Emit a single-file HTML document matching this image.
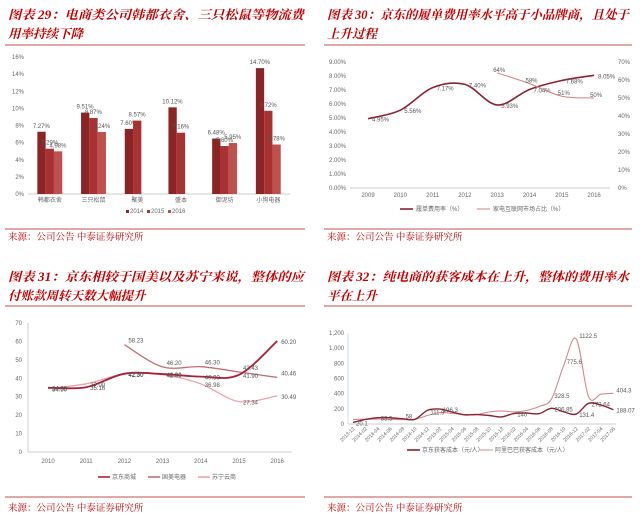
<!DOCTYPE html>
<html><head><meta charset="utf-8"><style>
html,body{margin:0;padding:0;background:#fff;width:640px;height:518px;overflow:hidden}
svg{display:block;font-family:"Liberation Sans","Noto Sans CJK SC",sans-serif}
.t{font-family:"Liberation Serif","Noto Serif CJK SC",serif;font-weight:bold;font-size:12.5px;fill:#C00000;font-style:italic}
.s{font-family:"Liberation Serif","Noto Serif CJK SC",serif;font-size:9.5px;fill:#C00000}
.ax{font-size:6px;fill:#666}
.dl{font-size:6px;fill:#555}
</style></head><body>
<svg id="root" width="640" height="518">
<g>
<text class="t" x="8" y="19" textLength="296" lengthAdjust="spacingAndGlyphs">图表 29：电商类公司韩都衣舍、三只松鼠等物流费</text>
<text class="t" x="8" y="38">用率持续下降</text></g>
<g>
<text class="t" x="327" y="19" textLength="302" lengthAdjust="spacingAndGlyphs">图表 30：京东的履单费用率水平高于小品牌商，且处于</text>
<text class="t" x="327" y="38">上升过程</text></g>
<g>
<text class="t" x="8" y="281" textLength="296" lengthAdjust="spacingAndGlyphs">图表 31：京东相较于国美以及苏宁来说，整体的应</text>
<text class="t" x="8" y="300">付账款周转天数大幅提升</text></g>
<g>
<text class="t" x="327" y="281" textLength="302" lengthAdjust="spacingAndGlyphs">图表 32：纯电商的获客成本在上升，整体的费用率水</text>
<text class="t" x="327" y="300">平在上升</text></g>
<line x1="5" y1="45" x2="305" y2="45" stroke="#C0504D"/>
<line x1="324" y1="45" x2="632" y2="45" stroke="#C0504D"/>
<line x1="5" y1="229" x2="305" y2="229" stroke="#C0504D"/>
<line x1="324" y1="229" x2="632" y2="229" stroke="#C0504D"/>
<line x1="5" y1="306" x2="305" y2="306" stroke="#C0504D"/>
<line x1="324" y1="306" x2="632" y2="306" stroke="#C0504D"/>
<line x1="5" y1="497" x2="305" y2="497" stroke="#C0504D"/>
<line x1="324" y1="497" x2="632" y2="497" stroke="#C0504D"/>
<text class="s" x="8" y="240">来源：公司公告 中泰证券研究所</text>
<text class="s" x="327" y="240">来源：公司公告 中泰证券研究所</text>
<text class="s" x="8" y="511">来源：公司公告 中泰证券研究所</text>
<text class="s" x="327" y="511">来源：公司公告 中泰证券研究所</text>
<g id="c1"></g><g id="c2"></g><g id="c3"></g><g id="c4"></g>
</svg>
<script>
// chart 29 data
const c1Cats=["韩都衣舍","三只松鼠","聚美","盛本","御泥坊","小狗电器"];
const c1Years=["2014","2015","2016"];
const c1V2014=[7.27,9.51,7.60,10.12,6.48,14.70];
const c1V2015=[5.29,8.87,8.57,7.16,5.60,9.72];
const c1V2016=[4.98,7.24,null,null,5.95,5.78];
const c1Ticks=[0,2,4,6,8,10,12,14,16];
// chart 30 data
const c2Years=["2009","2010","2011","2012","2013","2014","2015","2016"];
const c2Rate=[4.95,5.56,7.17,7.40,5.93,7.04,7.68,8.05];
const c2Share=[null,null,null,null,64,58,51,50];
const c2LTicks=[0,1,2,3,4,5,6,7,8,9];
const c2RTicks=[0,10,20,30,40,50,60,70];
// chart 31 data
const c3Years=["2010","2011","2012","2013","2014","2015","2016"];
const c3JD=[34.88,35.16,42.50,42.30,40.90,41.90,60.20];
const c3Gome=[null,null,58.23,46.20,46.30,43.43,40.46];
const c3Suning=[34.5,37.0,42.3,42.0,36.98,27.34,30.49];
const c3Ticks=[0,10,20,30,40,50,60,70];
// chart 32 data
const c4Dates=["2013-12","2014-02","2014-04","2014-06","2014-08","2014-10","2014-12","2015-02","2015-04","2015-06","2015-08","2015-10","2015-12","2016-02","2016-04","2016-06","2016-08","2016-10","2016-12","2017-02","2017-04","2017-06"];
const c4JD=[20.1,60,83.5,82.3,70,61.5,180,196.3,158.1,121.8,125,112,93.85,140,143.8,135.75,206.85,160,131.4,272.64,250,188.07];
const c4Ali=[60,62,65,62,58,61.5,111.9,150,140,121,125,160,172,160,178,230,328.5,775.6,1122.5,360,393,404.3];
const c4Ticks=[0,200,400,600,800,1000,1200];

const NS="http://www.w3.org/2000/svg";
function mk(p,tag,a){const e=document.createElementNS(NS,tag);for(const k in a)e.setAttribute(k,a[k]);p.appendChild(e);return e;}
function txt(p,x,y,s,cls,anchor){const e=mk(p,"text",{x:x,y:y,class:cls,"text-anchor":anchor||"start"});e.textContent=s;return e;}
function smooth(pts){let d="M"+pts[0][0]+","+pts[0][1];for(let i=0;i<pts.length-1;i++){const p0=pts[i-1]||pts[i],p1=pts[i],p2=pts[i+1],p3=pts[i+2]||p2;
d+=" C"+(p1[0]+(p2[0]-p0[0])/6)+","+(p1[1]+(p2[1]-p0[1])/6)+" "+(p2[0]-(p3[0]-p1[0])/6)+","+(p2[1]-(p3[1]-p1[1])/6)+" "+p2[0]+","+p2[1];}return d;}
function line(g,xs,vals,yf,color,w,name){const pts=[];vals.forEach((v,i)=>{if(v!=null)pts.push([xs(i),yf(v)]);});
const p=mk(g,"path",{d:smooth(pts),fill:"none",stroke:color,"stroke-width":w});

return pts;}

// ---- chart 1
(function(){const g=document.getElementById("c1");
const x0=28,cw=43.7,y0=194,yt=57,y=v=>y0-(v/16)*(y0-yt);
c1Ticks.forEach(t=>{txt(g,24,y(t)+2,t+"%","ax","end");});
mk(g,"line",{x1:x0,y1:y0,x2:x0+cw*6,y2:y0,stroke:"#ccc"});
const cols=["#8B2525","#A83232","#C0504D"],ser=[c1V2014,c1V2015,c1V2016];
c1Cats.forEach((c,i)=>{const cx=x0+cw*(i+0.5);
ser.forEach((s,j)=>{const v=s[i];if(v==null)return;const bx=cx-12.5+j*8.3;
const r=mk(g,"rect",{x:bx,y:y(v),width:8.3,height:y0-y(v),fill:cols[j]});


txt(g,bx+4,y(v)-4,v.toFixed(2)+"%","dl","middle");});
txt(g,cx,202,c,"ax","middle");});
c1Years.forEach((yr,j)=>{mk(g,"rect",{x:126+j*21,y:210,width:3,height:3,fill:cols[j]});txt(g,130+j*21,213,yr,"ax");});
})();

// ---- chart 2
(function(){const g=document.getElementById("c2");
const xs=i=>368+i*32.3,y0=188,yt=62,yl=v=>y0-(v/9)*(y0-yt),yr=v=>y0-(v/70)*(y0-yt);
c2LTicks.forEach(t=>txt(g,346,yl(t)+2,t.toFixed(2)+"%","ax","end"));
c2RTicks.forEach(t=>txt(g,618,yr(t)+2,t+"%","ax","start"));
mk(g,"line",{x1:350,y1:y0,x2:610,y2:y0,stroke:"#ccc"});
c2Years.forEach((yr2,i)=>txt(g,xs(i),197,yr2,"ax","middle"));
line(g,xs,c2Rate,yl,"#8B2232",1.6,"line-fulfillment-rate");
c2Rate.forEach((v,i)=>txt(g,xs(i)+4,yl(v)+3,v.toFixed(2)+"%","dl"));
line(g,xs,c2Share,yr,"#D08080",1,"line-market-share");
c2Share.forEach((v,i)=>{if(v!=null)txt(g,xs(i)-4,yr(v)-1,v+"%","dl");});
mk(g,"line",{x1:400,y1:209,x2:413,y2:209,stroke:"#8B2232","stroke-width":1.6});txt(g,416,211,"履单费用率（%）","ax");
mk(g,"line",{x1:477,y1:209,x2:490,y2:209,stroke:"#D08080"});txt(g,493,211,"家电互联网市场占比（%）","ax");
})();

// ---- chart 3
(function(){const g=document.getElementById("c3");
const xs=i=>48+i*38.2,y0=452,yt=323,y=v=>y0-(v/70)*(y0-yt);
c3Ticks.forEach(t=>txt(g,22,y(t)+2,t,"ax","end"));
mk(g,"line",{x1:28,y1:y0,x2:292,y2:y0,stroke:"#ccc"});
mk(g,"line",{x1:28,y1:yt,x2:28,y2:y0,stroke:"#ccc"});
c3Years.forEach((yr,i)=>txt(g,xs(i),463,yr,"ax","middle"));
line(g,xs,c3Suning,y,"#EBA5AD",1.3,"line-suning");
line(g,xs,c3Gome,y,"#C07078",1.3,"line-gome");
line(g,xs,c3JD,y,"#A8203A",1.8,"line-jd");
[c3JD,c3Gome,c3Suning].forEach(s=>s.forEach((v,i)=>{if(v!=null)txt(g,xs(i)+4,y(v)+(s===c3Gome?-2:3),v.toFixed(2),"dl");}));
const L=[["京东商城","#A8203A"],["国美电器","#C07078"],["苏宁云商","#EBA5AD"]];
L.forEach((l,j)=>{mk(g,"line",{x1:98+j*50,y1:477,x2:110+j*50,y2:477,stroke:l[1],"stroke-width":1.6});txt(g,112+j*50,479,l[0],"ax");});
})();

// ---- chart 4
(function(){const g=document.getElementById("c4");
const xs=i=>353+i*12.4,y0=424,yt=333,y=v=>y0-(v/1200)*(y0-yt);
c4Ticks.forEach(t=>txt(g,344,y(t)+2,t.toLocaleString("en-US"),"ax","end"));
mk(g,"line",{x1:348,y1:y0,x2:616,y2:y0,stroke:"#ccc"});
mk(g,"line",{x1:348,y1:yt,x2:348,y2:y0,stroke:"#cde"});
c4Dates.forEach((d,i)=>{const t=txt(g,xs(i)+2,429,d,"ax","end");t.setAttribute("transform","rotate(-45 "+(xs(i)+2)+" 429)");t.style.fontSize="5px";});
line(g,xs,c4Ali,y,"#D08A90",1.1,"line-alibaba-cost");
line(g,xs,c4JD,y,"#8B2232",1.4,"line-jd-cost");
[4,6,16,17,18,21].forEach(i=>txt(g,xs(i)+3,y(c4Ali[i])-1,String(c4Ali[i]),"dl"));
[0,2,7,13,16,18,19,21].forEach(i=>txt(g,xs(i)+3,y(c4JD[i])+3,String(c4JD[i]),"dl"));
mk(g,"line",{x1:407,y1:450,x2:420,y2:450,stroke:"#8B2232","stroke-width":1.6});txt(g,422,452,"京东获客成本（元/人）","ax");
mk(g,"line",{x1:480,y1:450,x2:493,y2:450,stroke:"#D08A90"});txt(g,495,452,"阿里巴巴获客成本（元/人）","ax");
})();
</script>
</body></html>
